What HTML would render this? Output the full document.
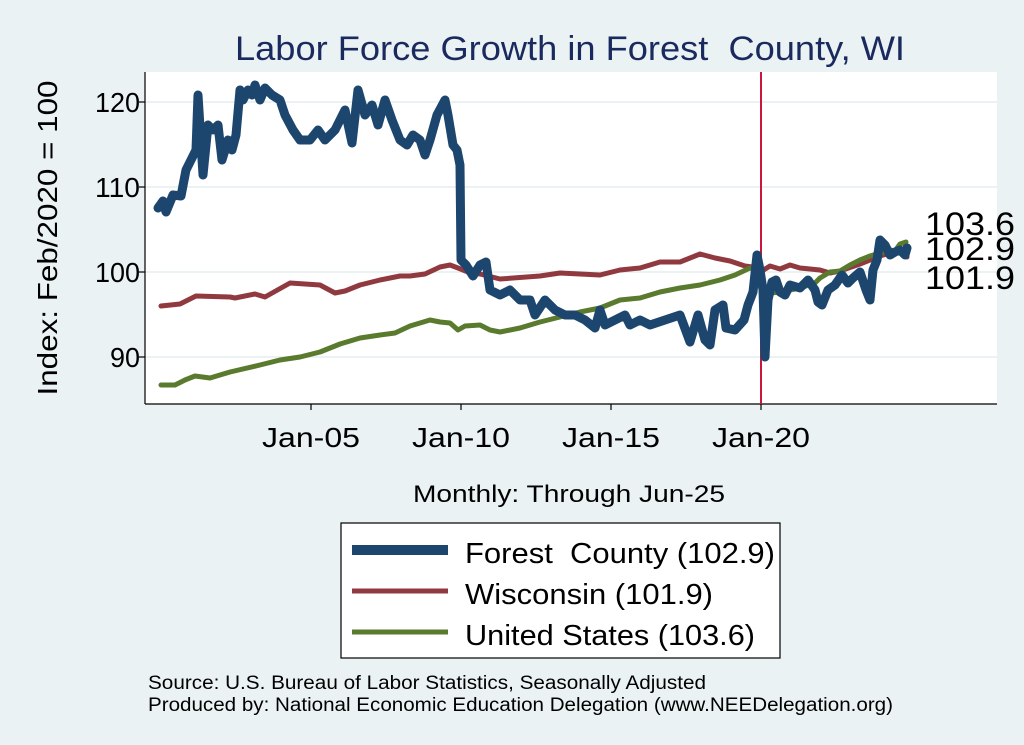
<!DOCTYPE html>
<html><head><meta charset="utf-8"><style>
html,body{margin:0;padding:0;background:#eaf2f3;}
svg{display:block;font-family:"Liberation Sans",sans-serif;}
</style></head><body>
<svg width="1024" height="745" viewBox="0 0 1024 745" xmlns="http://www.w3.org/2000/svg">
<rect width="1024" height="745" fill="#eaf2f3"/>
<text x="235" y="60" font-size="34" fill="#1a2a5e" textLength="670" lengthAdjust="spacingAndGlyphs" xml:space="preserve">Labor Force Growth in Forest  County, WI</text>
<rect x="145" y="72" width="852" height="332" fill="#fff"/>
<g stroke="#eaf2f3" stroke-width="2">
<line x1="145" x2="997" y1="102" y2="102"/><line x1="145" x2="997" y1="187" y2="187"/>
<line x1="145" x2="997" y1="272" y2="272"/><line x1="145" x2="997" y1="357" y2="357"/>
</g>
<g stroke="#000" stroke-width="1.2" fill="none">
<line x1="145" y1="72" x2="145" y2="404"/><line x1="145" y1="404" x2="997" y2="404"/>
<line x1="139" x2="145" y1="102" y2="102"/><line x1="139" x2="145" y1="187" y2="187"/>
<line x1="139" x2="145" y1="272" y2="272"/><line x1="139" x2="145" y1="357" y2="357"/>
<line x1="311" x2="311" y1="404" y2="410"/><line x1="461" x2="461" y1="404" y2="410"/>
<line x1="611" x2="611" y1="404" y2="410"/><line x1="761" x2="761" y1="404" y2="410"/>
</g>
<g font-size="28" fill="#000">
<text x="95" y="112" textLength="45" lengthAdjust="spacingAndGlyphs">120</text>
<text x="95" y="197" textLength="45" lengthAdjust="spacingAndGlyphs">110</text>
<text x="95" y="282" textLength="45" lengthAdjust="spacingAndGlyphs">100</text>
<text x="110" y="367" textLength="30" lengthAdjust="spacingAndGlyphs">90</text>
</g>
<g font-size="28" fill="#000">
<text x="262" y="447" textLength="98" lengthAdjust="spacingAndGlyphs">Jan-05</text>
<text x="412" y="447" textLength="98" lengthAdjust="spacingAndGlyphs">Jan-10</text>
<text x="562" y="447" textLength="98" lengthAdjust="spacingAndGlyphs">Jan-15</text>
<text x="712" y="447" textLength="98" lengthAdjust="spacingAndGlyphs">Jan-20</text>
</g>
<text transform="translate(57,238) rotate(-90)" font-size="28" text-anchor="middle" textLength="315" lengthAdjust="spacingAndGlyphs">Index: Feb/2020 = 100</text>
<text x="413" y="502" font-size="24" textLength="312" lengthAdjust="spacingAndGlyphs">Monthly: Through Jun-25</text>
<line x1="761" x2="761" y1="72" y2="404" stroke="#c8163c" stroke-width="2"/>
<g fill="none" stroke-linejoin="round" stroke-linecap="round">
<polyline stroke="#903a40" stroke-width="5" points="161,306 180,304 196,296 230,297 235,298 255,294 265,297 290,283 305,284 320,285 335,293 345,291 360,285 380,280 400,276 410,276 425,274 440,267 450,265 458,268 468,272 480,274 500,279 540,276 560,273 600,275 620,270 640,268 660,262 680,262 700,254 715,258 730,261 745,266 760,268 762,271 770,266 780,269 790,265 800,268 820,270 830,273 840,271 860,264 880,256 890,253 898,250 903,253 907,257"/>
<polyline stroke="#5a7a2e" stroke-width="5" points="161,385 175,385 185,380 195,376 210,378 230,372 260,365 280,360 300,357 320,352 340,344 360,338 380,335 395,333 410,326 430,320 440,322 450,323 458,330 465,326 480,325 490,330 500,332 520,328 540,322 560,317 580,312 600,308 620,300 640,298 650,295 660,292 680,288 700,285 720,280 735,275 750,268 757,270 762,272 765,305 770,293 780,292 800,288 815,283 820,278 830,272 840,271 850,265 860,260 870,256 880,253 890,250 895,251 900,244 906,242"/>
<polyline stroke="#1d466f" stroke-width="9" points="158,208 163,201 166,212 173,195 181,196 186,170 191,160 196,150 198,95 203,175 208,125 213,130 218,125 222,160 228,140 232,150 236,135 240,90 243,100 248,90 252,95 255,85 260,100 265,88 272,95 280,100 285,115 293,130 300,140 310,140 318,130 325,140 335,130 345,110 352,143 358,90 365,115 372,105 378,125 385,100 392,120 400,140 407,145 413,135 420,140 425,155 430,140 437,115 445,100 448,115 453,145 457,150 460,165 461,260 466,265 473,276 480,265 486,262 490,290 500,295 510,290 520,300 530,300 535,315 545,300 555,310 565,315 575,315 585,320 595,328 600,310 605,325 615,320 625,315 630,325 640,320 650,325 665,320 680,315 690,342 698,315 705,340 710,345 715,310 723,305 726,328 735,330 744,320 748,305 753,292 757,255 760,270 763,290 765,357 768,300 772,282 776,280 780,292 785,295 790,285 800,288 808,280 815,290 818,302 822,305 828,290 835,285 842,275 848,283 853,278 860,272 866,290 870,300 873,270 877,260 880,240 885,245 890,255 895,252 900,250 905,255 907,248"/>
</g>
<g font-size="32" fill="#000">
<text x="925" y="235" textLength="90" lengthAdjust="spacingAndGlyphs">103.6</text>
<text x="925" y="260" textLength="90" lengthAdjust="spacingAndGlyphs">102.9</text>
<text x="925" y="289" textLength="90" lengthAdjust="spacingAndGlyphs">101.9</text>
</g>
<rect x="341" y="523" width="439" height="135" fill="#fff" stroke="#000" stroke-width="1.2"/>
<line x1="352" x2="448" y1="550" y2="550" stroke="#1d466f" stroke-width="10"/>
<line x1="352" x2="448" y1="591" y2="591" stroke="#903a40" stroke-width="5"/>
<line x1="352" x2="448" y1="632" y2="632" stroke="#5a7a2e" stroke-width="5"/>
<g font-size="29" fill="#000">
<text x="465" y="563" xml:space="preserve" textLength="310" lengthAdjust="spacingAndGlyphs">Forest  County (102.9)</text>
<text x="465" y="604" textLength="248" lengthAdjust="spacingAndGlyphs">Wisconsin (101.9)</text>
<text x="465" y="645" textLength="290" lengthAdjust="spacingAndGlyphs">United States (103.6)</text>
</g>
<g font-size="19" fill="#000">
<text x="148" y="689" textLength="558" lengthAdjust="spacingAndGlyphs">Source: U.S. Bureau of Labor Statistics, Seasonally Adjusted</text>
<text x="148" y="711" textLength="745" lengthAdjust="spacingAndGlyphs">Produced by: National Economic Education Delegation (www.NEEDelegation.org)</text>
</g>
</svg>
</body></html>
